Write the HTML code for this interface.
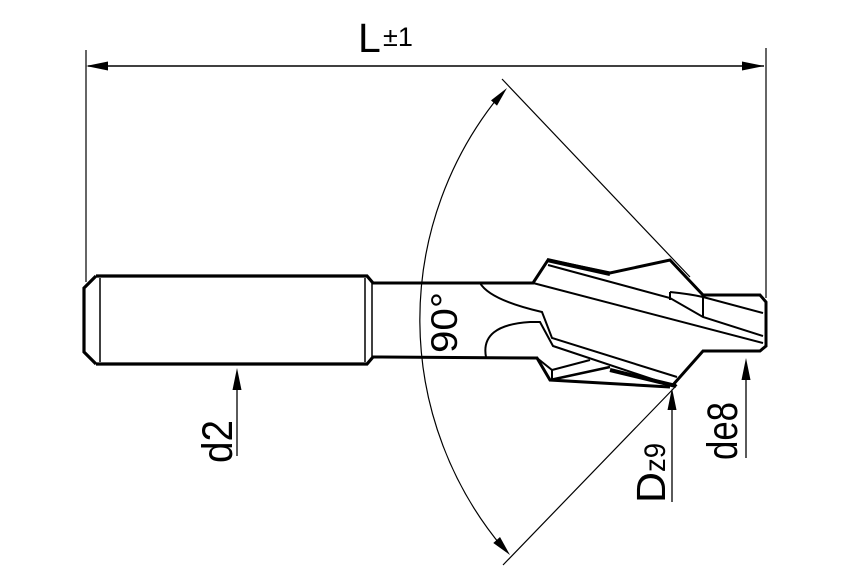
<!DOCTYPE html>
<html><head><meta charset="utf-8"><style>
html,body{margin:0;padding:0;background:#fff;}
svg{display:block;}
text{font-family:"Liberation Sans",sans-serif;fill:#000;}
</style></head><body>
<svg width="850" height="567" viewBox="0 0 850 567" xmlns="http://www.w3.org/2000/svg">
<g fill="none" stroke="#000" stroke-linejoin="miter">
<!-- extension lines -->
<line x1="86" y1="50" x2="86" y2="282" stroke-width="1.2"/>
<line x1="766" y1="48" x2="766" y2="298" stroke-width="1.2"/>
<!-- L dimension -->
<line x1="88" y1="66" x2="764" y2="66" stroke-width="1.4"/>
<!-- shank -->
<path d="M96,276 L367,276 L373,283 M96,364 L367,364 L373,357 M96,276 L84,288 L84,352 L96,364" stroke-width="3.2"/>
<line x1="100" y1="278" x2="100" y2="362" stroke-width="1.5"/>
<line x1="365" y1="278" x2="365" y2="362" stroke-width="1.5"/>
<line x1="372" y1="283" x2="372" y2="357" stroke-width="1.5"/>
<!-- neck -->
<path d="M372,283 L533,283 L548,260 L610,273 L670,260 L703,295 L760,295 L766,302 L766,346 L760,351 L703,351 L672,386" stroke-width="3"/>
<path d="M372,357 L537,358 L550,380 L670,387" stroke-width="3"/>
<path d="M552,370 L590,360 M552,370 L552,380 M537,358 L552,370" stroke-width="2"/>
<path d="M550,380 L610,367" stroke-width="2.5"/>
<!-- flutes -->
<path d="M533,283 L763,343" stroke-width="2"/>
<path d="M548,265 L670,298 L703,317 L763,336" stroke-width="2"/>
<path d="M670,292 L670,300 M670,292 Q690,294 703,297 L763,313 M703,297 L703,317" stroke-width="2"/>
<path d="M547,260 L610,274" stroke-width="4"/>
<path d="M480,283 Q490,300 542,312 L552,338 L677,377" stroke-width="2"/>
<path d="M486,357 Q480,325 530,322 L540,322 L553,346 L670,385" stroke-width="2"/>
<path d="M610,370 L676,386" stroke-width="4"/>
<!-- angle lines -->
<line x1="502" y1="79" x2="690" y2="277" stroke-width="1.2"/>
<line x1="503" y1="565" x2="677" y2="385" stroke-width="1.2"/>
<path d="M500,95 A355,355 0 0 0 503,548" stroke-width="1.2"/>
<!-- dim arrows lines -->
<line x1="237" y1="380" x2="237" y2="456" stroke-width="1.3"/>
<line x1="672" y1="400" x2="672" y2="502" stroke-width="1.3"/>
<line x1="746" y1="370" x2="746" y2="458" stroke-width="1.3"/>
</g>
<g fill="#000" stroke="none">
<polygon points="86,66 108,61.5 108,70.5"/>
<polygon points="764,66 742,61.5 742,70.5"/>
<polygon points="507,88 497,105.6 491,100.4"/>
<polygon points="510,555 500,537 493.3,543"/>
<polygon points="237,368 232.5,390 241.5,390"/>
<polygon points="672,388 667.5,410 676.5,410"/>
<polygon points="746,358 741.5,380 750.5,380"/>
</g>
<text x="358" y="52" font-size="41">L</text>
<text x="383" y="46" font-size="27">±1</text>
<text transform="translate(232,463) rotate(-90)" font-size="43" textLength="43" lengthAdjust="spacingAndGlyphs">d2</text>
<text transform="translate(457,353) rotate(-90)" font-size="37" textLength="61" lengthAdjust="spacingAndGlyphs">90°</text>
<text transform="translate(665,503) rotate(-90)" font-size="41" textLength="31" lengthAdjust="spacingAndGlyphs">D</text>
<text transform="translate(665,472) rotate(-90)" font-size="30" textLength="29" lengthAdjust="spacingAndGlyphs">z9</text>
<text transform="translate(737,460) rotate(-90)" font-size="43" textLength="58" lengthAdjust="spacingAndGlyphs">de8</text>
</svg>
</body></html>
